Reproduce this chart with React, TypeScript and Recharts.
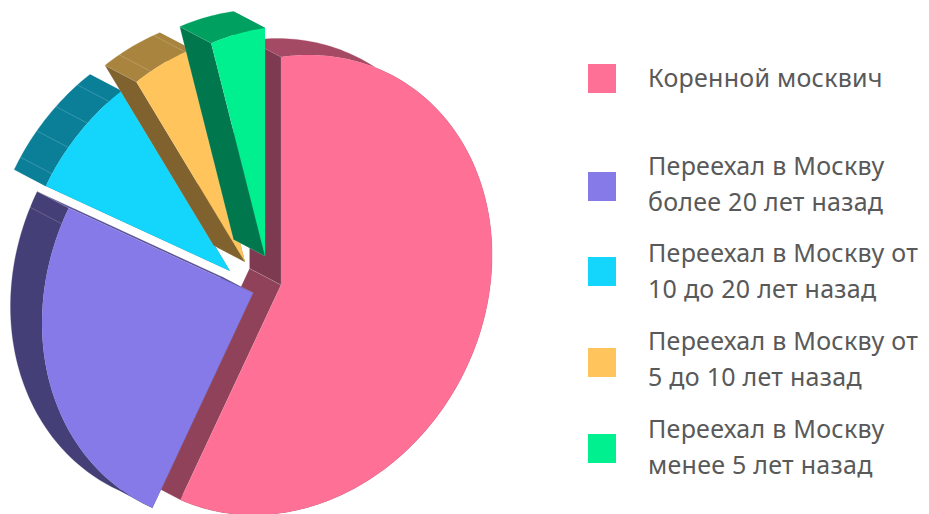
import React from "react";
import { Legend, Pie, PieChart } from "recharts";

const categories = [
  "Коренной москвич",
  "Переехал в Москву\nболее 20 лет назад",
  "Переехал в Москву от\n10 до 20 лет назад",
  "Переехал в Москву от\n5 до 10 лет назад",
  "Переехал в Москву\nменее 5 лет назад",
];
const shares = [57.9, 25.2, 8.3, 4.5, 4.1];
const faceColors = ["#ff7096", "#857ae8", "#14d6fc", "#ffc55c", "#00f090"];
const startWallColors = ["#7e3a50", "#453f78", "#0a6f85", "#80622e", "#00774c"];
const endWallColors = ["#8f4259", "#5a5296", "#0a6f85", "#80622e", "#00774c"];
const outerWallColors = ["#a54a64", "#453f78", "#0b7f98", "#a8843e", "#00a060"];

const tableData = categories.map((name, i) => ({
  name,
  value: shares[i],
  fill: faceColors[i],
}));

// fake 3d: every slice is a tilted ellipse pushed out from the pie centre
const CX = 281;
const CY = 285;
const RADIUS = 228;
const UX = 211 / RADIUS;
const UY = -30 / RADIUS;
const DEPTH = [-31.5, -16.5];
const explode = [
  [0, 0],
  [-28, 8],
  [-51, -14],
  [-36, -23],
  [-16, -29],
];
const facetAngles = [106.5, 116.5, 125, 132.5, 140, 147.5, 155];
const legendTops = [64, 172, 257, 348, 434];
const legendTextTops = [60, 148, 235, 323, 411];

const pointAt = (cx: number, cy: number, r: number, deg: number) => {
  const t = (deg * Math.PI) / 180;
  const c = Math.cos(t) * r;
  const s = Math.sin(t) * r;
  return [cx + c * UX, cy + c * UY - s];
};

const toPath = (pts: number[][]) =>
  "M" + pts.map((p) => p[0].toFixed(2) + "," + p[1].toFixed(2)).join("L") + "Z";

const shift = (p: number[]) => [p[0] + DEPTH[0], p[1] + DEPTH[1]];
const cross = (a: number[], b: number[]) => a[0] * b[1] - a[1] * b[0];

function Slice3D(props: any) {
  const { cx, cy, outerRadius, startAngle, endAngle, index, fill } = props;
  const x = cx + explode[index][0];
  const y = cy + explode[index][1];
  const r = outerRadius;
  const apex = [x, y];
  const dir = endAngle < startAngle ? -1 : 1;
  const steps = Math.max(2, Math.ceil(Math.abs(endAngle - startAngle)));
  const arc: number[][] = [];
  for (let i = 0; i <= steps; i++) {
    arc.push(pointAt(x, y, r, startAngle + ((endAngle - startAngle) * i) / steps));
  }

  const wall = (angle: number, inward: number, color: string) => {
    const p = pointAt(x, y, r, angle);
    const q = pointAt(x, y, r, angle + inward);
    const edge = [p[0] - x, p[1] - y];
    const back = cross(edge, [q[0] - x, q[1] - y]) * cross(edge, DEPTH) > 0;
    return {
      back,
      el: (
        <path
          key={"w" + angle}
          d={toPath([apex, p, shift(p), shift(apex)])}
          fill={color}
          stroke="rgba(255,255,255,0.25)"
          strokeWidth={0.5}
        />
      ),
    };
  };
  const walls = [
    wall(startAngle, dir, startWallColors[index]),
    wall(endAngle, -dir, endWallColors[index]),
  ];

  const lo = Math.min(startAngle, endAngle);
  const hi = Math.max(startAngle, endAngle);
  const facets = facetAngles
    .flatMap((a) => [a, a - 360])
    .filter((a) => a > lo && a < hi)
    .map((a) => {
      const p = pointAt(x, y, r, a);
      const b = shift(p);
      return (
        <line
          key={"f" + a}
          x1={p[0]}
          y1={p[1]}
          x2={b[0]}
          y2={b[1]}
          stroke="rgba(255,255,255,0.3)"
          strokeWidth={0.6}
        />
      );
    });

  return (
    <g>
      {walls.filter((w) => w.back).map((w) => w.el)}
      <path
        d={toPath([...arc, ...arc.map(shift).reverse()])}
        fill={outerWallColors[index]}
        stroke={outerWallColors[index]}
        strokeWidth={0.3}
      />
      {facets}
      {walls.filter((w) => !w.back).map((w) => w.el)}
      <path d={toPath([apex, ...arc])} fill={fill} />
    </g>
  );
}

function LegendBlock({ payload }: any) {
  return (
    <div style={{ position: "relative", width: 929, height: 514 }}>
      {(payload || []).map((item: any, i: number) => (
        <React.Fragment key={item.value}>
          <div
            style={{
              position: "absolute",
              left: 588,
              top: legendTops[i],
              width: 28,
              height: 29,
              background: faceColors[i],
            }}
          />
          <div
            style={{
              position: "absolute",
              left: 648,
              top: legendTextTops[i],
              fontFamily: "'Noto Sans', sans-serif",
              fontSize: 25,
              lineHeight: "35.5px",
              letterSpacing: 0.27,
              color: "#595959",
              whiteSpace: "pre",
            }}
          >
            {item.value}
          </div>
        </React.Fragment>
      ))}
    </div>
  );
}

export default function App() {
  return (
    <div style={{ position: "absolute", left: 0, top: 0, width: 929, height: 514 }}>
      <PieChart width={929} height={514} margin={{ top: 0, right: 0, bottom: 0, left: 0 }}>
        <Pie
          data={tableData}
          dataKey="value"
          nameKey="name"
          cx={CX}
          cy={CY}
          outerRadius={RADIUS}
          startAngle={90}
          endAngle={-270}
          stroke="none"
          isAnimationActive={false}
          shape={Slice3D}
        />
        <Legend
          content={<LegendBlock />}
          itemSorter={null}
          wrapperStyle={{ position: "absolute", left: 0, top: 0, width: 929, height: 514 }}
        />
      </PieChart>
    </div>
  );
}
